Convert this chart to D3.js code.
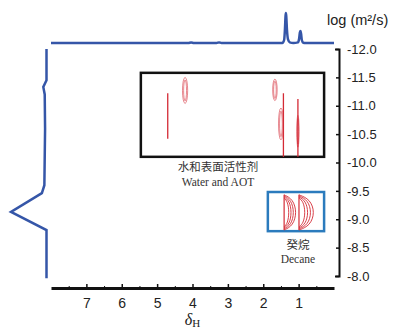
<!DOCTYPE html>
<html>
<head>
<meta charset="utf-8">
<script src="https://cdn.jsdelivr.net/npm/d3@7"></script>
<style>
  body { margin: 0; background: #fff; }
  svg { display: block; font-family: "Liberation Sans", Arial, sans-serif; }
</style>
</head>
<body>
<div id="chart"></div>
<script>
// chemical shift (ppm) ticks and diffusion (log D) ticks
const xTicks = [7, 6, 5, 4, 3, 2, 1];
const xMinorTicks = [7.5, 6.5, 5.5, 4.5, 3.5, 2.5, 1.5, 0.5];
const yTicks = [-12.0, -11.5, -11.0, -10.5, -10.0, -9.5, -9.0, -8.5, -8.0];

// 1D proton spectrum on top (ppm, relative intensity)
const topPpm = [8.0, 4.12, 4.04, 3.96, 3.32, 3.25, 3.18, 1.46, 1.41, 1.385, 1.37, 1.36, 1.35, 1.33, 1.30, 1.25, 1.15, 1.02, 0.985, 0.965, 0.945, 0.93, 0.91, 0.87, 0.80, 0.0];
const topInt = [0, 0, 0.02, 0, 0, 0.02, 0, 0, 0.1, 0.5, 0.9, 1.0, 0.9, 0.45, 0.12, 0.02, 0, 0.02, 0.15, 0.35, 0.4, 0.3, 0.1, 0.01, 0, 0];

// diffusion projection on the left (log D, relative intensity)
const leftLogD = [-12.0, -11.45, -11.33, -11.2, -10.6, -9.6, -9.46, -9.13, -8.81, -7.96];
const leftInt = [0, 0, 0.09, 0.05, 0.04, 0.06, 0.13, 1.0, 0, 0];

// DOSY cross peaks: water and AOT region
const streaks = [
  { ppm: 4.70, top: -11.22, bottom: -10.42 },
  { ppm: 1.43, top: -11.22, bottom: -10.10 },
  { ppm: 1.02, top: -11.12, bottom: -10.10 }
];
const ovals = [
  { ppm: 4.21, logD: -11.27, rx: 0.065, ry: 0.23 },
  { ppm: 1.67, logD: -11.28, rx: 0.055, ry: 0.19 },
  { ppm: 1.50, logD: -10.68, rx: 0.06, ry: 0.28 },
  { ppm: 1.02, logD: -10.55, rx: 0.025, ry: 0.28 }
];
// decane peaks (left edge ppm, right edge ppm, log D top, bottom)
const decane = [
  { left: 1.41, right: 1.05, top: -9.43, bottom: -8.81 },
  { left: 0.99, right: 0.54, top: -9.43, bottom: -8.81 }
];
const ringScale = [1, 0.8, 0.6, 0.4];

// boxes and their labels
const boxes = [
  { x0: 5.46, x1: 0.28, y0: -11.58, y1: -10.10, color: '#111' },
  { x0: 1.87, x1: 0.28, y0: -9.48, y1: -8.79, color: '#2b7bbd' }
];
const labels = [
  { text: '水和表面活性剂', ppm: 3.28, logD: -9.85, cjk: true },
  { text: 'Water and AOT', ppm: 3.28, logD: -9.59, cjk: false },
  { text: '癸烷', ppm: 1.02, logD: -8.47, cjk: true },
  { text: 'Decane', ppm: 1.02, logD: -8.23, cjk: false }
];

const width = 393;
const height = 328;
const blue = '#3556a8';
const red = '#d42a35';

const svg = d3.select('#chart')
  .append('svg')
    .attr('width', width)
    .attr('height', height);

const x = d3.scaleLinear().domain([8, 0]).range([51, 334]);
const y = d3.scaleLinear().domain([-12, -8]).range([49, 276]);
const topY = d3.scaleLinear().domain([0, 1]).range([43, 13]);
const leftX = d3.scaleLinear().domain([0, 1]).range([46.5, 11]);

// bottom axis
const xAxis = svg.append('g')
  .attr('transform', 'translate(0,288)')
  .call(d3.axisBottom(x).tickValues(xTicks).tickSizeInner(-4).tickSizeOuter(0).tickPadding(10));
xAxis.select('.domain').attr('stroke', '#111').attr('stroke-width', 3);
xAxis.selectAll('.tick line').attr('stroke', '#111').attr('stroke-width', 1.5);
xAxis.selectAll('.tick text').attr('font-size', 14).attr('fill', '#222')
  .attr('font-family', '"Liberation Sans", Arial, sans-serif');

const xMinor = svg.append('g')
  .attr('transform', 'translate(0,288)')
  .call(d3.axisBottom(x).tickValues(xMinorTicks).tickSizeInner(-2).tickSizeOuter(0).tickFormat(''));
xMinor.select('.domain').remove();
xMinor.selectAll('.tick line').attr('stroke', '#111').attr('stroke-width', 1);

// right axis
const yAxis = svg.append('g')
  .attr('transform', 'translate(339,0)')
  .call(d3.axisRight(y).tickValues(yTicks).tickFormat(d => d.toFixed(1))
    .tickSizeInner(-3).tickSizeOuter(-4).tickPadding(8));
yAxis.select('.domain').attr('stroke', '#111').attr('stroke-width', 2);
yAxis.selectAll('.tick line').attr('stroke', '#111').attr('stroke-width', 1.5);
yAxis.selectAll('.tick text').attr('font-size', 13).attr('fill', '#222')
  .attr('font-family', '"Liberation Sans", Arial, sans-serif');

svg.append('text')
  .attr('x', 327)
  .attr('y', 25)
  .attr('font-size', 14.5)
  .attr('fill', '#222')
  .text('log (m²/s)');

// δH axis title
const xTitle = svg.append('text')
  .attr('x', x(4))
  .attr('y', 325)
  .attr('text-anchor', 'middle')
  .attr('font-family', '"Liberation Serif", "Times New Roman", serif')
  .attr('fill', '#222');
xTitle.append('tspan').attr('font-size', 16).attr('font-style', 'italic').text('δ');
xTitle.append('tspan').attr('font-size', 11).attr('dy', 2).text('H');

// top 1D spectrum
const topData = topPpm.map((p, i) => ({ p, v: topInt[i] }));
svg.append('path')
  .datum(topData)
  .attr('fill', 'none')
  .attr('stroke', blue)
  .attr('stroke-width', 2.5)
  .attr('d', d3.line().x(d => x(d.p)).y(d => topY(d.v)).curve(d3.curveMonotoneX));

// left diffusion projection
const leftData = leftLogD.map((l, i) => ({ l, v: leftInt[i] }));
svg.append('path')
  .datum(leftData)
  .attr('fill', 'none')
  .attr('stroke', blue)
  .attr('stroke-width', 2.5)
  .attr('stroke-linejoin', 'miter')
  .attr('d', d3.line().x(d => leftX(d.v)).y(d => y(d.l)));

// boxes
svg.append('g')
  .selectAll('rect')
  .data(boxes)
  .enter()
  .append('rect')
    .attr('x', d => x(d.x0))
    .attr('y', d => y(d.y0))
    .attr('width', d => x(d.x1) - x(d.x0))
    .attr('height', d => y(d.y1) - y(d.y0))
    .attr('fill', 'none')
    .attr('stroke', d => d.color)
    .attr('stroke-width', 2.5);

// cross peaks
const peaks = svg.append('g').attr('fill', 'none').attr('stroke', red);

peaks.selectAll('.streak')
  .data(streaks)
  .enter()
  .append('line')
    .attr('class', 'streak')
    .attr('x1', d => x(d.ppm))
    .attr('x2', d => x(d.ppm))
    .attr('y1', d => y(d.top))
    .attr('y2', d => y(d.bottom))
    .attr('stroke-width', 1.3);

ovals.forEach(o => {
  [1, 0.5].forEach(k => {
    peaks.append('ellipse')
      .attr('cx', x(o.ppm))
      .attr('cy', y(o.logD))
      .attr('rx', Math.abs(x(o.rx) - x(0)) * k + 0.3)
      .attr('ry', Math.abs(y(o.ry) - y(0)) * (0.6 + 0.4 * k))
      .attr('stroke-width', 0.7)
      .attr('opacity', 0.8);
  });
});

decane.forEach(d => {
  const xl = x(d.left);
  const w = x(d.right) - xl;
  const yt = y(d.top);
  const yb = y(d.bottom);
  const ym = (yt + yb) / 2;
  peaks.append('line')
    .attr('x1', xl).attr('x2', xl).attr('y1', yt).attr('y2', yb)
    .attr('stroke-width', 1.2);
  ringScale.forEach(k => {
    const h = (yb - yt) / 2 * (0.7 + 0.3 * k);
    peaks.append('path')
      .attr('d', d3.line().curve(d3.curveBasis)([
        [xl, ym - h], [xl + w * k * 0.7, ym - h * 0.75], [xl + w * k, ym],
        [xl + w * k * 0.7, ym + h * 0.75], [xl, ym + h]
      ]))
      .attr('stroke-width', 0.9);
  });
});

// labels
svg.append('g')
  .selectAll('text')
  .data(labels)
  .enter()
  .append('text')
    .attr('x', d => x(d.ppm))
    .attr('y', d => y(d.logD))
    .attr('text-anchor', 'middle')
    .attr('font-size', 11.5)
    .attr('font-family', d => d.cjk ? '"Noto Sans CJK SC", sans-serif' : '"Liberation Serif", "Times New Roman", serif')
    .attr('fill', '#333')
    .text(d => d.text);
</script>
</body>
</html>
